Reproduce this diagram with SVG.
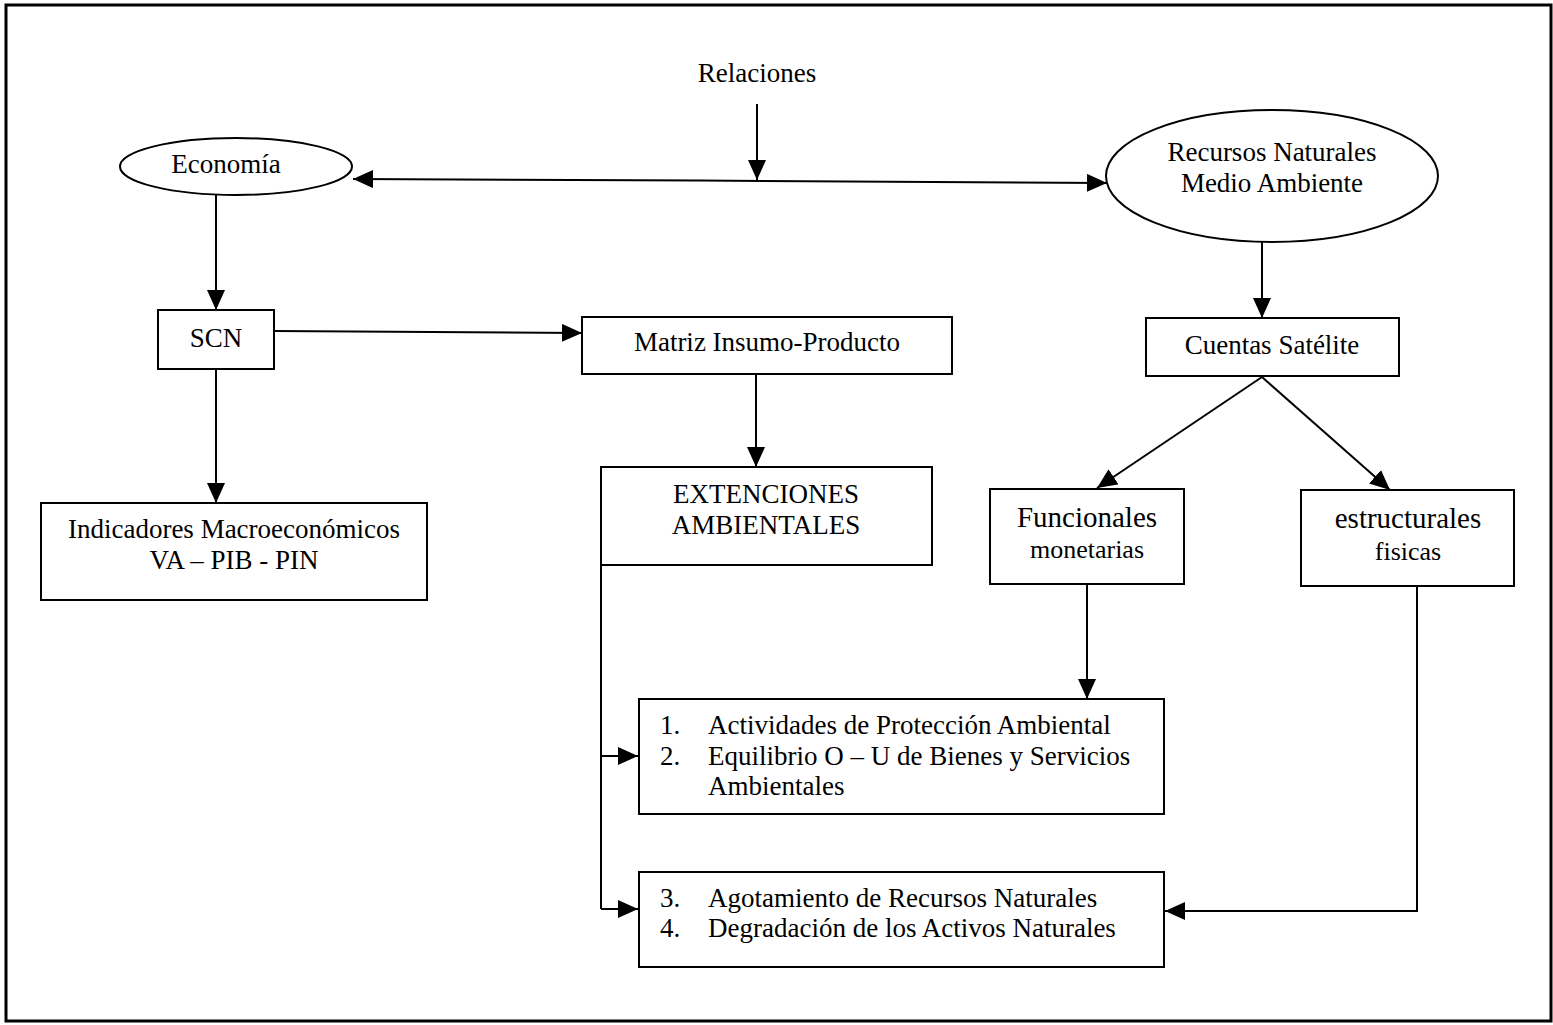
<svg xmlns="http://www.w3.org/2000/svg" width="1553" height="1025" viewBox="0 0 1553 1025">
<style>
text{font-family:"Liberation Serif","Times New Roman",serif;font-size:27px;fill:#000}
.c{text-anchor:middle}
.big{font-size:29px}
.sm{font-size:26px}
.box{fill:#fff;stroke:#000;stroke-width:2}
.ln{fill:none;stroke:#000;stroke-width:2}
</style>
<defs>
<marker id="ah" markerUnits="userSpaceOnUse" markerWidth="22" markerHeight="20" refX="20" refY="9" orient="auto">
<path d="M0,0 L20,9 L0,18 z" fill="#000"/>
</marker>
</defs>
<rect x="6" y="5" width="1545" height="1016" fill="none" stroke="#000" stroke-width="3"/>
<text class="c" x="757" y="82">Relaciones</text>
<g id="connectors">
<line class="ln" x1="757" y1="104" x2="757" y2="180" marker-end="url(#ah)"/>
<line class="ln" x1="700" y1="180.5" x2="353" y2="179" marker-end="url(#ah)"/>
<line class="ln" x1="700" y1="180.5" x2="1107" y2="183" marker-end="url(#ah)"/>
<line class="ln" x1="216" y1="195" x2="216" y2="310" marker-end="url(#ah)"/>
<line class="ln" x1="216" y1="369" x2="216" y2="503" marker-end="url(#ah)"/>
<line class="ln" x1="274" y1="331" x2="582" y2="333" marker-end="url(#ah)"/>
<line class="ln" x1="756" y1="374" x2="756" y2="467" marker-end="url(#ah)"/>
<line class="ln" x1="1262" y1="242" x2="1262" y2="318" marker-end="url(#ah)"/>
<line class="ln" x1="1262" y1="377" x2="1097" y2="488" marker-end="url(#ah)"/>
<line class="ln" x1="1262" y1="377" x2="1390" y2="490" marker-end="url(#ah)"/>
<line class="ln" x1="1087" y1="584" x2="1087" y2="699" marker-end="url(#ah)"/>
<polyline class="ln" points="601,565 601,909"/>
<line class="ln" x1="601" y1="756" x2="638" y2="756" marker-end="url(#ah)"/>
<line class="ln" x1="601" y1="909" x2="638" y2="909" marker-end="url(#ah)"/>
<polyline class="ln" points="1417,586 1417,911 1165,911" marker-end="url(#ah)"/>
</g>
<g id="economia">
<ellipse class="box" cx="236" cy="166.5" rx="116" ry="28.5"/>
<text class="c" x="226" y="173">Economía</text>
</g>
<g id="recursos">
<ellipse class="box" cx="1272" cy="176" rx="166" ry="66"/>
<text class="c" x="1272" y="161">Recursos Naturales</text>
<text class="c" x="1272" y="192">Medio Ambiente</text>
</g>
<g id="scn">
<rect class="box" x="158" y="310" width="116" height="59"/>
<text class="c" x="216" y="347">SCN</text>
</g>
<g id="matriz">
<rect class="box" x="582" y="317" width="370" height="57"/>
<text class="c" x="767" y="351">Matriz Insumo-Producto</text>
</g>
<g id="cuentas">
<rect class="box" x="1146" y="318" width="253" height="58"/>
<text class="c" x="1272" y="354">Cuentas Satélite</text>
</g>
<g id="indicadores">
<rect class="box" x="41" y="503" width="386" height="97"/>
<text class="c" x="234" y="538">Indicadores Macroeconómicos</text>
<text class="c" x="234" y="569">VA – PIB - PIN</text>
</g>
<g id="extenciones">
<rect class="box" x="601" y="467" width="331" height="98"/>
<text class="c" x="766" y="503">EXTENCIONES</text>
<text class="c" x="766" y="534">AMBIENTALES</text>
</g>
<g id="funcionales">
<rect class="box" x="990" y="489" width="194" height="95"/>
<text class="c big" x="1087" y="527">Funcionales</text>
<text class="c sm" x="1087" y="558">monetarias</text>
</g>
<g id="estructurales">
<rect class="box" x="1301" y="490" width="213" height="96"/>
<text class="c big" x="1408" y="528">estructurales</text>
<text class="c sm" x="1408" y="560">fisicas</text>
</g>
<g id="actividades">
<rect class="box" x="639" y="699" width="525" height="115"/>
<text x="660" y="734">1.</text><text x="708" y="734">Actividades de Protección Ambiental</text>
<text x="660" y="765">2.</text><text x="708" y="765">Equilibrio O – U de Bienes y Servicios</text>
<text x="708" y="795">Ambientales</text>
</g>
<g id="agotamiento">
<rect class="box" x="639" y="872" width="525" height="95"/>
<text x="660" y="907">3.</text><text x="708" y="907">Agotamiento de Recursos Naturales</text>
<text x="660" y="937">4.</text><text x="708" y="937">Degradación de los Activos Naturales</text>
</g>
</svg>
